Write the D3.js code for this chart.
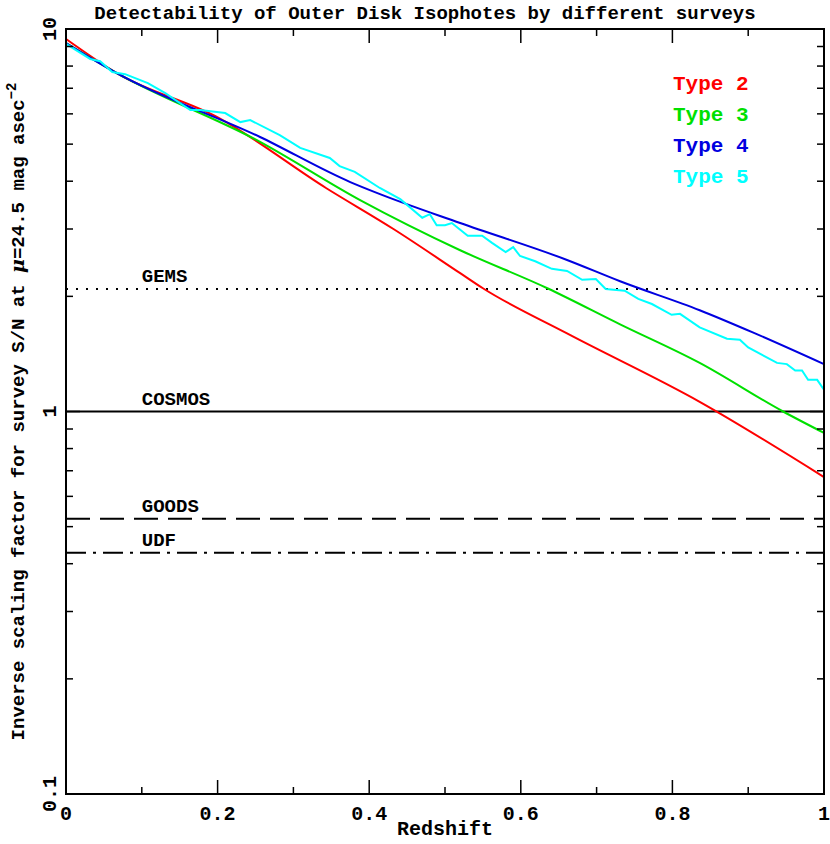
<!DOCTYPE html>
<html><head><meta charset="utf-8">
<script src="https://cdn.jsdelivr.net/npm/d3@7"></script>
<style>body{margin:0;background:#fff}text{font-family:"Liberation Mono","DejaVu Sans Mono",monospace;font-weight:bold}</style>
</head><body><div id="chart"></div>
<script>
// data: [redshift, inverse scaling factor]
const type2 = [[0,9.42],[0.067,7.67],[0.202,5.85],[0.343,3.84],[0.432,3.0],[0.52,2.3],[0.55,2.1],[0.661,1.6],[0.836,1.06],[1,0.674]];
const type3 = [[0,9.19],[0.067,7.67],[0.256,5.07],[0.388,3.57],[0.52,2.64],[0.635,2.1],[0.731,1.69],[0.836,1.34],[0.946,1.0],[1,0.879]];
const type4 = [[0,9.19],[0.067,7.67],[0.256,5.22],[0.375,3.98],[0.41,3.73],[0.52,3.11],[0.661,2.49],[0.731,2.19],[0.836,1.84],[0.906,1.61],[1,1.33]];
const type5 = [[0,9.14],[0.032,8.35],[0.045,8.24],[0.061,7.72],[0.078,7.62],[0.108,7.22],[0.131,6.8],[0.164,6.14],[0.177,6.14],[0.21,6.03],[0.23,5.71],[0.243,5.78],[0.282,5.28],[0.309,4.89],[0.348,4.6],[0.361,4.38],[0.381,4.23],[0.414,3.84],[0.441,3.59],[0.47,3.21],[0.48,3.28],[0.489,3.07],[0.5,3.07],[0.509,3.11],[0.53,2.88],[0.549,2.88],[0.562,2.76],[0.58,2.61],[0.59,2.69],[0.599,2.55],[0.619,2.47],[0.641,2.36],[0.661,2.33],[0.681,2.21],[0.699,2.22],[0.712,2.09],[0.737,2.07],[0.755,1.97],[0.773,1.91],[0.799,1.79],[0.81,1.8],[0.836,1.66],[0.872,1.55],[0.889,1.54],[0.9,1.47],[0.938,1.34],[0.951,1.33],[0.962,1.28],[0.971,1.28],[0.979,1.21],[0.991,1.21],[1,1.14]];
const seriesNames = ["Type 2","Type 3","Type 4","Type 5"];
const seriesColors = ["#ff0000","#00e000","#0000e0","#00ffff"];
const surveys = ["GEMS","COSMOS","GOODS","UDF"];
const surveyLevels = [2.09,1.0,0.524,0.427];
const surveyDash = ["2,8","","24,10","20,7,3,7"];

const width = 830, height = 844;
const m = {left:66, top:29, right:6, bottom:50};
const iw = width - m.left - m.right, ih = height - m.top - m.bottom;

const svg = d3.select("#chart").append("svg").attr("width", width).attr("height", height);
const g = svg.append("g").attr("transform", `translate(${m.left},${m.top})`);

const x = d3.scaleLinear().domain([0,1]).range([0,iw]);
const y = d3.scaleLog().domain([0.1,10]).range([ih,0]);

// survey limits
surveys.forEach((s,i) => {
  g.append("line").attr("x1",0).attr("x2",iw).attr("y1",y(surveyLevels[i])).attr("y2",y(surveyLevels[i]))
    .attr("stroke","#000").attr("stroke-width",2).attr("stroke-dasharray",surveyDash[i]);
  g.append("text").attr("x",x(0.1)).attr("y",y(surveyLevels[i])-7).attr("font-size",19).text(s);
});

const smooth = d3.line().curve(d3.curveMonotoneX).x(d => x(d[0])).y(d => y(d[1]));
const jagged = d3.line().x(d => x(d[0])).y(d => y(d[1]));
[type2,type3,type4,type5].forEach((s,i) => {
  g.append("path").datum(s).attr("d", i < 3 ? smooth : jagged).attr("fill","none").attr("stroke",seriesColors[i]).attr("stroke-width",2);
});

// legend
seriesNames.forEach((n,i) => {
  g.append("text").attr("x",607).attr("y",61 + i*31).attr("fill",seriesColors[i]).attr("font-size",21).text(n);
});

// frame and ticks
g.append("rect").attr("width",iw).attr("height",ih).attr("fill","none").attr("stroke","#000").attr("stroke-width",2);
const xt = d3.range(0,1.0001,0.1);
xt.forEach((t,i) => {
  const len = i%2===0 ? 14 : 7;
  g.append("line").attr("x1",x(t)).attr("x2",x(t)).attr("y1",ih).attr("y2",ih-len).attr("stroke","#000").attr("stroke-width",1.5);
  g.append("line").attr("x1",x(t)).attr("x2",x(t)).attr("y1",0).attr("y2",len).attr("stroke","#000").attr("stroke-width",1.5);
});
[0,0.2,0.4,0.6,0.8,1].forEach(t => {
  g.append("text").attr("x",x(t)).attr("y",ih+26).attr("text-anchor","middle").attr("font-size",20).text(t);
});
const yt = [];
[0.1,1].forEach(d => { for (let k=1;k<10;k++) yt.push(d*k); });
yt.push(10);
yt.forEach(t => {
  const major = [0.1,1,10].includes(+t.toFixed(3));
  const len = major ? 14 : 7;
  g.append("line").attr("x1",0).attr("x2",len).attr("y1",y(t)).attr("y2",y(t)).attr("stroke","#000").attr("stroke-width",1.5);
  g.append("line").attr("x1",iw).attr("x2",iw-len).attr("y1",y(t)).attr("y2",y(t)).attr("stroke","#000").attr("stroke-width",1.5);
});
[0.1,1,10].forEach(t => {
  g.append("text").attr("transform",`translate(-10,${y(t)}) rotate(-90)`).attr("text-anchor","middle").attr("font-size",20).text(t);
});

svg.append("text").attr("x",m.left+iw/2).attr("y",height-9).attr("text-anchor","middle").attr("font-size",20).text("Redshift");
svg.append("text").attr("x",m.left+iw/2-20).attr("y",19).attr("text-anchor","middle").attr("font-size",19)
  .text("Detectability of Outer Disk Isophotes by different surveys");
const yl = svg.append("text").attr("transform",`translate(24,${m.top+ih/2}) rotate(-90)`).attr("text-anchor","middle").attr("font-size",19);
yl.append("tspan").text("Inverse scaling factor for survey S/N at ");
yl.append("tspan").attr("font-style","italic").attr("font-family","DejaVu Serif").text("μ");
yl.append("tspan").text("=24.5 mag asec");
yl.append("tspan").attr("dy",-8).attr("font-size",14).text("−2");
</script></body></html>
